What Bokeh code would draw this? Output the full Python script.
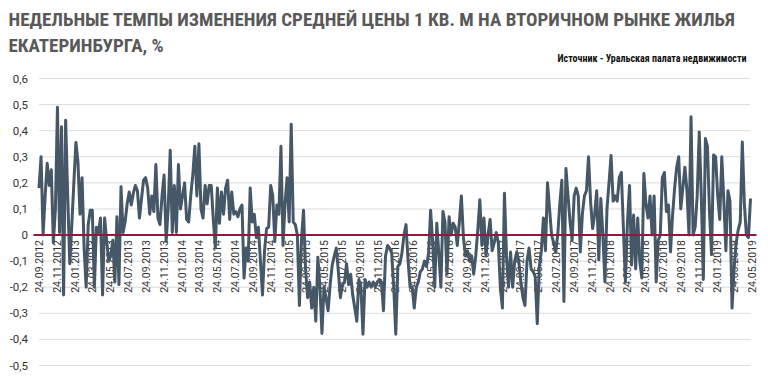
import numpy as np
import pandas as pd
from bokeh.plotting import figure
from bokeh.models import Range1d
from bokeh.core.properties import value
from bokeh.embed import file_html
from bokeh.resources import INLINE

title_line1 = "НЕДЕЛЬНЫЕ ТЕМПЫ ИЗМЕНЕНИЯ СРЕДНЕЙ ЦЕНЫ 1 КВ. М НА ВТОРИЧНОМ РЫНКЕ ЖИЛЬЯ"
title_line2 = "ЕКАТЕРИНБУРГА, %"
source_note = "Источник - Уральская палата недвижимости"

first_week = "2012-09-24"

weekly_change = [
    0.18, 0.30, 0.0, 0.15, 0.275, 0.19, 0.25, -0.03, 0.1, 0.49,
    0.01, 0.415, -0.23, 0.44, 0.15, -0.11, 0.04, 0.2, 0.355, 0.28,
    0.08, 0.22, -0.05, -0.2, 0.04, 0.095, 0.095, -0.2, 0.03, 0.01,
    0.065, -0.23, 0.065, -0.02, -0.1, -0.08, -0.02, -0.18, 0.07, -0.19,
    0.185, 0.01, 0.05, 0.12, 0.165, 0.115, 0.16, 0.19, 0.17, 0.065,
    0.14, 0.21, 0.22, 0.18, 0.08, 0.15, 0.09, 0.27, 0.065, 0.04,
    0.15, 0.23, -0.025, 0.1, 0.325, 0.01, 0.19, 0.01, 0.27, 0.1,
    0.15, 0.2, 0.06, 0.05, 0.15, 0.23, 0.34, 0.15, 0.35, 0.1,
    0.065, 0.19, 0.12, 0.19, 0.19, 0.06, -0.05, 0.18, 0.045, 0.165,
    0.08, 0.18, 0.21, 0.06, 0.165, 0.08, 0.09, 0.07, 0.1, 0.115,
    -0.165, -0.05, -0.1, 0.18, 0.05, 0.08, -0.01, 0.03, -0.1, -0.23,
    -0.06, 0.025, 0.03, 0.19, 0.15, -0.025, 0.115, 0.08, 0.34, -0.04,
    0.12, 0.22, 0.05, 0.425, 0.05, 0.04, 0.0, -0.27, -0.02, 0.095,
    -0.13, -0.24, -0.18, -0.28, -0.2, -0.33, -0.085, -0.2, -0.377, -0.2,
    -0.24, -0.29, -0.19, -0.115, -0.08, -0.05, -0.14, -0.24, -0.19, -0.18,
    -0.11, -0.19, -0.15, -0.23, -0.28, -0.33, -0.17, -0.2, -0.38, -0.17,
    -0.2, -0.18, -0.2, -0.18, -0.2, -0.18, -0.17, -0.18, -0.29, -0.08,
    -0.04, -0.05, -0.07, -0.2, -0.38, -0.12, -0.11, -0.07, 0.0, 0.04,
    -0.1, -0.2, -0.2, -0.28, -0.2, -0.18, -0.14, -0.13, -0.1, -0.12,
    -0.07, 0.095, -0.03, -0.2, 0.045, -0.07, -0.2, 0.09, 0.05, -0.15,
    0.07, 0.0, 0.045, 0.03, -0.04, 0.05, 0.15, -0.01, -0.08, -0.06,
    -0.1, -0.08, -0.15, -0.08, 0.02, 0.135, -0.04, 0.065, -0.08, 0.0,
    0.06, -0.06, -0.03, 0.01, -0.03, -0.2, -0.28, 0.16, -0.08, -0.2,
    -0.065, -0.2, -0.1, -0.065, -0.1, -0.18, -0.24, -0.27, -0.1, -0.05,
    -0.13, -0.14, -0.16, -0.34, -0.12, -0.06, 0.065, -0.06, 0.2, 0.1,
    0.0, -0.03, -0.065, 0.0, 0.12, 0.21, -0.255, 0.255, 0.15, 0.05,
    -0.02, 0.15, 0.18, 0.15, -0.065, 0.08, 0.15, 0.17, 0.3, 0.13,
    0.025, 0.08, 0.17, -0.095, 0.14, 0.0, -0.18, 0.1, 0.2, 0.305,
    0.13, 0.15, 0.13, 0.22, 0.24, 0.03, -0.18, 0.05, 0.19, -0.115,
    0.077, -0.13, 0.065, -0.1, -0.165, 0.236, 0.12, 0.065, 0.15, 0.0,
    0.15, -0.18, -0.02, 0.0, 0.22, 0.24, 0.09, 0.115, -0.065, 0.077,
    0.18, 0.26, 0.3, 0.1, 0.18, 0.26, 0.17, 0.0, 0.453, 0.0,
    0.03, 0.15, 0.395, 0.15, -0.17, 0.37, 0.34, 0.09, -0.075, 0.307,
    0.3, 0.15, 0.06, 0.3, 0.13, -0.06, 0.17, 0.13, -0.28, -0.13,
    -0.03, 0.02, 0.05, 0.357, 0.12, 0.0, -0.01, 0.14,
]

date_labels = [
    "24.09.2012", "24.11.2012", "24.01.2013", "24.03.2013", "24.05.2013",
    "24.07.2013", "24.09.2013", "24.11.2013", "24.01.2014", "24.03.2014",
    "24.05.2014", "24.07.2014", "24.09.2014", "24.11.2014", "24.01.2015",
    "24.03.2015", "24.05.2015", "24.07.2015", "24.09.2015", "24.11.2015",
    "24.01.2016", "24.03.2016", "24.05.2016", "24.07.2016", "24.09.2016",
    "24.11.2016", "24.01.2017", "24.03.2017", "24.05.2017", "24.07.2017",
    "24.09.2017", "24.11.2017", "24.01.2018", "24.03.2018", "24.05.2018",
    "24.07.2018", "24.09.2018", "24.11.2018", "24.01.2019", "24.03.2019",
    "24.05.2019",
]

y_ticks = [-0.5, -0.4, -0.3, -0.2, -0.1, 0.0, 0.1, 0.2, 0.3, 0.4, 0.5, 0.6]
y_tick_labels = ["-0,5", "-0,4", "-0,3", "-0,2", "-0,1", "0",
                 "0,1", "0,2", "0,3", "0,4", "0,5", "0,6"]

dates = pd.date_range(first_week, periods=len(weekly_change), freq="7D")
label_dates = pd.to_datetime(date_labels, format="%d.%m.%Y")

W, H = 768, 380
week = pd.Timedelta(days=7)
px_per_week = (750 - 38.5) / (len(weekly_change) - 1)
x_lo = dates[0] - week * (38.5 / px_per_week)
x_hi = dates[-1] + week * ((W - 750) / px_per_week)
px_per_unit = (365 - 78) / (max(y_ticks) - min(y_ticks))
y_top = max(y_ticks) + 78 / px_per_unit
y_bot = min(y_ticks) - (H - 365) / px_per_unit

p = figure(
    width=W, height=H,
    x_axis_type="datetime", x_axis_location=None, y_axis_location=None,
    x_range=Range1d(x_lo, x_hi), y_range=Range1d(y_bot, y_top),
    output_backend="svg", toolbar_location=None, title=None,
    min_border=0,
)
p.outline_line_color = None
p.background_fill_color = "white"
p.border_fill_color = "white"
for g in p.grid:
    g.visible = False

n = len(y_ticks)
# horizontal grid
p.segment(x0=[dates[0]] * n, y0=y_ticks, x1=[dates[-1]] * n, y1=y_ticks,
          line_color="#dcdcdc", line_width=1)

# y tick labels
p.text(x=[dates[0]] * n, y=y_ticks, text=y_tick_labels,
       text_align="right", text_baseline="middle", x_offset=-11,
       text_font=value("Roboto"), text_font_size="11.5px", text_color="#333333")

# x date labels (rotated, hanging below the zero line)
p.text(x=label_dates, y=[0] * len(date_labels), text=date_labels,
       angle=np.pi / 2, text_align="right", text_baseline="middle",
       y_offset=5, text_font=value("Roboto"), text_font_size="10.5px",
       text_color="#333333")

# series
p.line(dates, weekly_change, line_color="#465767", line_width=3, line_join="round")

# zero line
p.segment(x0=[dates[0] - week * (5.5 / px_per_week)], y0=[0],
          x1=[dates[-1] + week * (6 / px_per_week)], y1=[0],
          line_color="#8c1c3e", line_width=2)

# titles
p.text(x=[x_lo], y=[y_top], text=[title_line1], x_offset=8, y_offset=19,
       text_align="left", text_baseline="middle",
       text_font=value("Roboto Condensed"), text_font_size="19px",
       text_font_style="bold", text_color="#595959")
p.text(x=[x_lo], y=[y_top], text=[title_line2], x_offset=8, y_offset=45,
       text_align="left", text_baseline="middle",
       text_font=value("Roboto Condensed"), text_font_size="19px",
       text_font_style="bold", text_color="#595959")
p.text(x=[x_hi], y=[y_top], text=[source_note], x_offset=-22, y_offset=58,
       text_align="right", text_baseline="middle",
       text_font=value("Roboto Condensed"), text_font_size="10px",
       text_font_style="bold", text_color="#111111")

open("out.html", "w").write(file_html(p, INLINE))
